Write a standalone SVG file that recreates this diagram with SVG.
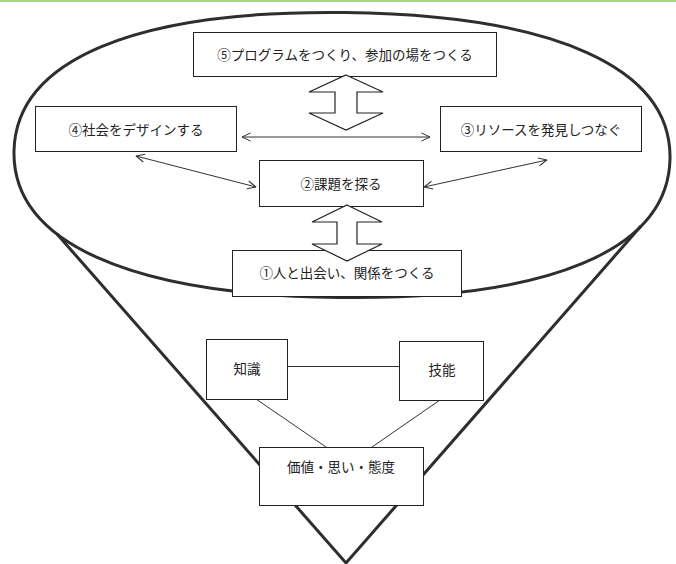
<svg xmlns="http://www.w3.org/2000/svg" width="676" height="564" viewBox="0 0 676 564">
<defs>
<style>
.box{fill:#fff;stroke:#222;stroke-width:1}
.t{font-family:"Noto Sans CJK JP","Noto Sans",sans-serif;font-size:13.5px;fill:#222;text-anchor:middle;dominant-baseline:central}
.thick{fill:none;stroke:#2e2e2e;stroke-width:3;stroke-linejoin:miter}
.conn{fill:none;stroke:#333;stroke-width:1}
.blk{fill:#fff;stroke:#222;stroke-width:1.2;stroke-linejoin:miter}
</style>
<filter id="soft" x="-5%" y="-5%" width="110%" height="110%"><feGaussianBlur stdDeviation="0.6"/></filter>
<marker id="ah" viewBox="0 0 10 10" refX="9.5" refY="5" markerWidth="10" markerHeight="10" markerUnits="userSpaceOnUse" orient="auto-start-reverse">
<path d="M1,1 L9.5,5 L1,9" fill="none" stroke="#333" stroke-width="1"/>
</marker>
</defs>
<rect width="676" height="564" fill="#fff"/>
<line x1="0" y1="1" x2="676" y2="1" stroke="#a9d18e" stroke-width="2"/>
<g id="funnel" filter="url(#soft)">
<path class="thick" d="M670,159 C668.1,250.2 548.9,300.1 339,297.5 C129.1,294.9 12.1,242.2 14,151 C15.9,59.8 135.1,9.9 345,12.5 C554.9,15.1 671.9,67.8 670,159 Z"/>
<polyline class="thick" points="57,234 346,563 641,226"/>
</g>
<g id="connectors">
<line class="conn" x1="242" y1="137" x2="430" y2="137" marker-start="url(#ah)" marker-end="url(#ah)"/>
<line class="conn" x1="136" y1="156" x2="256" y2="187" marker-start="url(#ah)" marker-end="url(#ah)"/>
<line class="conn" x1="547" y1="160" x2="424" y2="187" marker-start="url(#ah)" marker-end="url(#ah)"/>
<line class="conn" x1="287" y1="366.5" x2="399" y2="366.5"/>
<line class="conn" x1="256" y1="399" x2="326" y2="447"/>
<line class="conn" x1="440" y1="400" x2="372" y2="447"/>
</g>
<g id="n5"><rect class="box" x="193.5" y="32.5" width="303" height="44"/><text class="t" x="345" y="54">⑤プログラムをつくり、参加の場をつくる</text></g>
<g id="n4"><rect class="box" x="35.5" y="106.5" width="201" height="45"/><text class="t" x="136" y="129">④社会をデザインする</text></g>
<g id="n3"><rect class="box" x="440.5" y="106.5" width="201" height="45"/><text class="t" x="541" y="129">③リソースを発見しつなぐ</text></g>
<g id="n2"><rect class="box" x="259.5" y="160.5" width="164" height="46"/><text class="t" x="341" y="183">②課題を探る</text></g>
<g id="n1"><rect class="box" x="232.5" y="250.5" width="229" height="46"/><text class="t" x="347" y="272">①人と出会い、関係をつくる</text></g>
<g id="arrow1"><polygon class="blk" points="346,75 383,92 357,92 357,113 383,113 346,130 309,113 335,113 335,92 309,92"/></g>
<g id="arrow2"><polygon class="blk" points="347,205 382,222 357,222 357,244 382,244 347,261 312,244 337,244 337,222 312,222"/></g>
<g id="k1"><rect class="box" x="206.5" y="339.5" width="81" height="60"/><text class="t" x="247" y="368">知識</text></g>
<g id="k2"><rect class="box" x="399.5" y="341.5" width="84" height="59"/><text class="t" x="442" y="369">技能</text></g>
<g id="k3"><rect class="box" x="259.5" y="447.5" width="164" height="58"/><text class="t" x="341" y="466">価値・思い・態度</text></g>
</svg>
